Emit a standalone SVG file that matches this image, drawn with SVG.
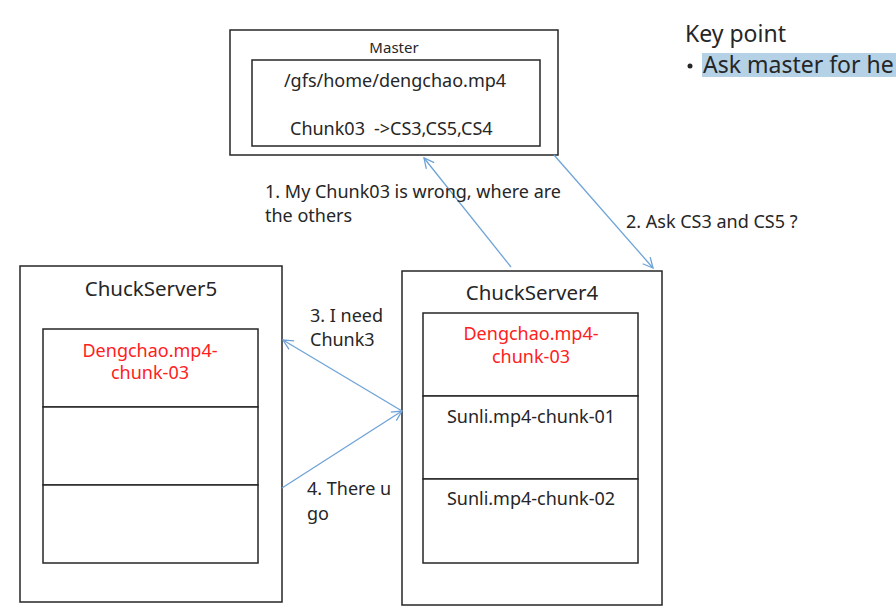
<svg xmlns="http://www.w3.org/2000/svg" width="896" height="616" viewBox="0 0 896 616">
<style>
.box{fill:#fff;stroke:#262626;stroke-width:1.5}
.t{font-family:"Noto Sans","Liberation Sans",Arial,sans-serif;fill:#262626;font-size:18px}
.r{fill:#ff2020}
.c{text-anchor:middle}
.h{font-size:20.5px}
.ln{stroke:#6fa3d8;stroke-width:1.3;fill:none}
</style>
<defs>
<marker id="ah" viewBox="0 0 12 12" refX="11" refY="6" markerWidth="12" markerHeight="12" markerUnits="userSpaceOnUse" orient="auto">
<path d="M1,1 L11,6 L1,11" fill="none" stroke="#6fa3d8" stroke-width="1.3"/>
</marker>
</defs>
<rect width="896" height="616" fill="#fff"/>
<g id="master">
<rect class="box" x="230" y="30" width="328" height="125"/>
<text class="t c" x="394" y="53" style="font-size:15px">Master</text>
<rect class="box" x="252" y="60" width="288" height="86"/>
<text class="t c" x="395" y="87">/gfs/home/dengchao.mp4</text>
<text class="t" x="290" y="135">Chunk03<tspan dx="9">-&gt;CS3,CS5,CS4</tspan></text>
</g>
<g id="keypoint">
<text class="t" x="685" y="42" style="font-size:23px">Key point</text>
<rect x="702" y="53" width="194" height="24" fill="#b4d1e6"/>
<circle cx="690" cy="66" r="2.5" fill="#262626"/>
<text class="t" x="703" y="73" style="font-size:23px">Ask master for he</text>
</g>
<g id="cs5">
<rect class="box" x="20" y="266" width="262" height="336"/>
<text class="t c h" x="151" y="296">ChuckServer5</text>
<rect class="box" x="43" y="329" width="215" height="78"/>
<rect class="box" x="43" y="407" width="215" height="78"/>
<rect class="box" x="43" y="485" width="215" height="78"/>
<text class="t c r" x="150" y="357">Dengchao.mp4-</text>
<text class="t c r" x="150" y="379">chunk-03</text>
</g>
<g id="cs4">
<rect class="box" x="402" y="271" width="260" height="334"/>
<text class="t c h" x="532" y="300">ChuckServer4</text>
<rect class="box" x="423" y="313" width="215" height="83"/>
<rect class="box" x="423" y="396" width="215" height="83"/>
<rect class="box" x="423" y="479" width="215" height="84"/>
<text class="t c r" x="531" y="340">Dengchao.mp4-</text>
<text class="t c r" x="531" y="363">chunk-03</text>
<text class="t c" x="531" y="423">Sunli.mp4-chunk-01</text>
<text class="t c" x="531" y="505">Sunli.mp4-chunk-02</text>
</g>
<g id="connectors">
<line class="ln" x1="511" y1="267" x2="424" y2="158" marker-end="url(#ah)"/>
<line class="ln" x1="554" y1="155" x2="653" y2="268" marker-end="url(#ah)"/>
<line class="ln" x1="402" y1="411" x2="283" y2="340" marker-end="url(#ah)"/>
<line class="ln" x1="282" y1="488" x2="402" y2="411" marker-end="url(#ah)"/>
<text class="t" x="265" y="198">1. My Chunk03 is wrong, where are</text>
<text class="t" x="265" y="222">the others</text>
<text class="t" x="626" y="228">2. Ask CS3 and CS5 ?</text>
<text class="t" x="310" y="322">3. I need</text>
<text class="t" x="310" y="346">Chunk3</text>
<text class="t" x="307" y="495">4. There u</text>
<text class="t" x="307" y="520">go</text>
</g>
</svg>
